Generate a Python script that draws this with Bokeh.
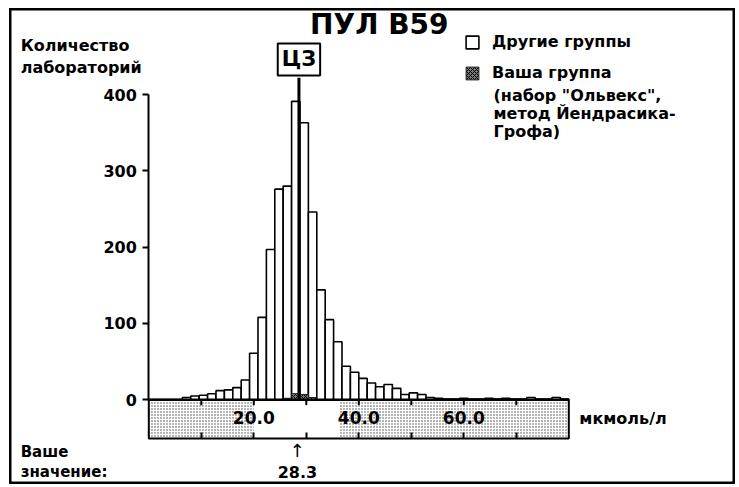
from bokeh.plotting import figure
from bokeh.models import Range1d, FixedTicker, Label, Legend, LegendItem
from bokeh.embed import file_html
from bokeh.resources import INLINE

# ---------------- data ----------------
title_text = "ПУЛ В59"
y_label_lines = "Количество\nлабораторий"
x_unit_text = "мкмоль/л"
your_value_lines = "Ваше\nзначение:"
legend_other = "Другие группы"
legend_yours = "Ваша группа"
legend_yours_note = '(набор "Ольвекс",\nметод Йендрасика-\nГрофа)'
target_label = "ЦЗ"

bin_width = 1.6
bin_starts = [6.4, 8.0, 9.6, 11.2, 12.8, 14.4, 16.0, 17.6, 19.2, 20.8,
              22.4, 24.0, 25.6, 27.2, 28.8, 30.4, 32.0, 33.6, 35.2, 36.8,
              38.4, 40.0, 41.6, 43.2, 44.8, 46.4, 48.0, 49.6, 51.2, 52.8,
              54.4, 56.0, 57.6, 59.2, 60.8, 62.4, 64.0, 65.6, 67.2, 68.8,
              70.4, 72.0, 73.6, 75.2, 76.8, 78.4]
other_counts = [3, 5, 6, 8, 12, 13, 16, 26, 61, 108,
                197, 276, 280, 391, 363, 246, 144, 105, 76, 44,
                36, 28, 22, 17, 20, 15, 7, 9, 7, 3,
                2, 1, 1, 2, 1, 1, 2, 1, 2, 1,
                1, 3, 1, 1, 3, 1]
your_bin_starts = [25.6, 27.2, 28.8, 30.4]
your_counts = [2, 8, 7, 3]

target_value = 28.6      # ЦЗ
your_value = 28.3
accept_low, accept_high = 20.0, 36.3
axis_min, axis_max = 0.0, 80.0
x_ticks = [10, 20, 30, 40, 50, 60, 70]
x_tick_labels = {10: "", 20: "20.0", 30: "", 40: "40.0", 50: "", 60: "60.0", 70: ""}
y_ticks = [0, 100, 200, 300, 400]
band_depth = 50.7

FONT = "DejaVu Sans"

# ---------------- figure ----------------
p = figure(width=726, height=476, output_backend="svg", toolbar_location=None,
           x_range=Range1d(-26.53, 111.75), y_range=Range1d(-111.0, 512.7),
           min_border_left=0, min_border_right=0, min_border_top=0,
           min_border_bottom=0)
p.styles = {"margin": "8px 0px 0px 9px"}
p.xgrid.visible = False
p.ygrid.visible = False
p.outline_line_color = "black"
p.outline_line_width = 4
p.background_fill_color = "white"
p.border_fill_color = "white"

# y axis, sitting at x = 0
ya = p.yaxis[0]
ya.fixed_location = axis_min
ya.ticker = FixedTicker(ticks=y_ticks)
ya.bounds = (0, 400)
ya.axis_line_width = 2
ya.major_tick_line_width = 2
ya.major_tick_out = 6
ya.major_tick_in = 0
ya.minor_tick_out = 0
ya.minor_tick_in = 0
ya.major_label_standoff = 6
ya.major_label_text_font = FONT
ya.major_label_text_font_style = "bold"
ya.major_label_text_font_size = "16px"
ya.major_label_text_color = "black"

# x axis along the bottom of the band, labels inside the band
xa = p.xaxis[0]
xa.fixed_location = -band_depth
xa.ticker = FixedTicker(ticks=x_ticks)
xa.major_label_overrides = x_tick_labels
xa.axis_line_color = None
xa.major_tick_in = 6
xa.major_tick_out = 0
xa.major_tick_line_width = 2
xa.minor_tick_out = 0
xa.minor_tick_in = 0
xa.major_label_standoff = -27
xa.major_label_text_font = FONT
xa.major_label_text_font_style = "bold"
xa.major_label_text_font_size = "17px"
xa.major_label_text_color = "black"

# band below the baseline
p.quad(left=[axis_min], right=[axis_max], bottom=[-band_depth], top=[0],
       fill_color="white", line_color=None, hatch_pattern="dot",
       hatch_color="#444444", hatch_scale=3, hatch_weight=1.4)
p.quad(left=[accept_low], right=[accept_high], bottom=[-band_depth], top=[0],
       fill_color="white", line_color=None)
p.quad(left=[axis_min], right=[axis_max], bottom=[-band_depth], top=[0],
       fill_color=None, line_color="black", line_width=2)
p.segment(x0=x_ticks, y0=[0] * len(x_ticks), x1=x_ticks, y1=[-7] * len(x_ticks),
          line_color="black", line_width=2)

# histogram bars
r_other = p.quad(left=bin_starts, right=[s + bin_width for s in bin_starts],
                 bottom=0, top=other_counts, fill_color="white",
                 line_color="black", line_width=1.6)
r_yours = p.quad(left=your_bin_starts, right=[s + bin_width for s in your_bin_starts],
                 bottom=0, top=your_counts, fill_color="#777777",
                 line_color="#222222", line_width=1, hatch_pattern="x",
                 hatch_color="black", hatch_scale=4, hatch_weight=1)

# baseline
p.segment(x0=[axis_min], y0=[0], x1=[axis_max], y1=[0], line_color="black", line_width=2.5)

# target (ЦЗ) line and box
p.segment(x0=[target_value], y0=[0], x1=[target_value], y1=[422],
          line_color="black", line_width=3)
p.add_layout(Label(x=target_value, y=425, text=target_label, text_align="center",
                   text_baseline="bottom", text_font=FONT, text_font_style="bold",
                   text_font_size="21px", text_color="black",
                   border_line_color="black", border_line_width=2,
                   background_fill_color="white", padding=4))

# title
p.add_layout(Label(x=43.9, y=491.7, text=title_text, text_align="center",
                   text_baseline="middle", text_font=FONT, text_font_style="bold",
                   text_font_size="28px", text_color="black"))

# other texts
p.add_layout(Label(x=-24.4, y=477.0, text=y_label_lines, text_align="left",
                   text_baseline="top", text_font=FONT, text_font_style="bold",
                   text_font_size="16px", text_line_height=1.15, text_color="black"))
p.add_layout(Label(x=82.0, y=-25, text=x_unit_text, text_align="left",
                   text_baseline="middle", text_font=FONT, text_font_style="bold",
                   text_font_size="16px", text_color="black"))
p.add_layout(Label(x=-24.4, y=-56.5, text=your_value_lines, text_align="left",
                   text_baseline="top", text_font=FONT, text_font_style="bold",
                   text_font_size="15px", text_line_height=1.1, text_color="black"))
p.add_layout(Label(x=your_value, y=-66, text="↑", text_align="center",
                   text_baseline="middle", text_font=FONT,
                   text_font_size="18px", text_color="black"))
p.add_layout(Label(x=your_value, y=-95, text=f"{your_value:.1f}", text_align="center",
                   text_baseline="middle", text_font=FONT, text_font_style="bold",
                   text_font_size="16px", text_color="black"))

# legend
legend = Legend(items=[LegendItem(label=legend_other, renderers=[r_other]),
                       LegendItem(label=legend_yours, renderers=[r_yours])],
                location=(455, 402), border_line_color=None,
                background_fill_alpha=0, label_text_font=FONT,
                label_text_font_style="bold", label_text_font_size="16px",
                label_text_color="black", glyph_width=16, glyph_height=16,
                label_height=16, spacing=12, padding=0, margin=0, label_standoff=12)
p.add_layout(legend, "center")
p.add_layout(Label(x=65.66, y=410.5, text=legend_yours_note, text_align="left",
                   text_baseline="top", text_font=FONT, text_font_style="bold",
                   text_font_size="16px", text_line_height=0.93, text_color="black"))

open("out.html", "w").write(file_html(p, INLINE))
